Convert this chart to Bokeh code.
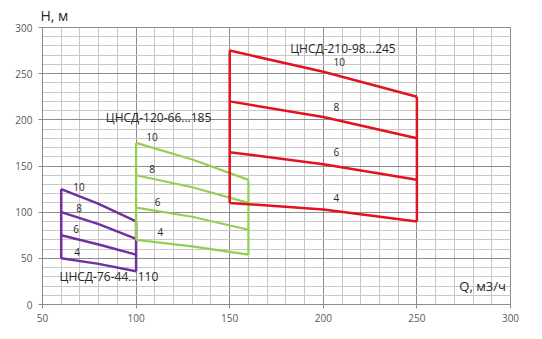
from bokeh.plotting import figure
from bokeh.models import Range1d, SingleIntervalTicker, Label
from bokeh.embed import file_html
from bokeh.resources import INLINE

# ---- data ----
q_small = [60, 80, 100]
h_small = {"10": [125, 109, 90], "8": [100, 87, 71], "6": [75, 65, 54], "4": [50, 44, 36]}
name_small = "ЦНСД-76-44...110"

q_mid = [100, 130, 160]
h_mid = {"10": [175, 157, 135], "8": [140, 127, 110], "6": [105, 95, 81], "4": [70, 63, 54]}
name_mid = "ЦНСД-120-66...185"

q_big = [150, 200, 250]
h_big = {"10": [275, 252, 225], "8": [220, 203, 180], "6": [165, 152, 135], "4": [110, 103, 90]}
name_big = "ЦНСД-210-98...245"

# label anchor points (Q, H) for curve numbers
lab_small = {"10": (69.5, 123), "8": (69.5, 100), "6": (68, 77.5), "4": (68.5, 52)}
lab_mid = {"10": (108.5, 177.5), "8": (108.5, 142), "6": (111.5, 107), "4": (113, 74.5)}
lab_big = {"10": (208.5, 258), "8": (207, 210), "6": (207, 161), "4": (207, 111)}
name_pos = {name_small: (85.5, 30), name_mid: (112, 202), name_big: (210.5, 277)}

x_ticks = [50, 100, 150, 200, 250, 300]
y_ticks = [0, 50, 100, 150, 200, 250, 300]

FONT = "Open Sans"

p = figure(width=542, height=339, output_backend="svg", toolbar_location=None,
           x_range=Range1d(50, 300), y_range=Range1d(0, 300),
           min_border_left=42, min_border_right=32, min_border_top=0, min_border_bottom=35)
p.title.text = "Н, м"
p.title.text_font = FONT
p.title.text_font_size = "14px"
p.title.text_font_style = "normal"
p.title.text_color = "#262626"
p.title.align = "left"
p.title.offset = -2
p.title.standoff = 6
p.background_fill_color = "white"
p.border_fill_color = "white"
p.outline_line_color = "#8c8c8c"

for ax, ticks in ((p.xaxis, x_ticks), (p.yaxis, y_ticks)):
    ax.ticker = SingleIntervalTicker(interval=50, num_minor_ticks=5)
    ax.axis_line_color = "#8c8c8c"
    ax.major_tick_line_color = "#8c8c8c"
    ax.major_tick_out = 4
    ax.major_tick_in = 0
    ax.minor_tick_line_color = None
    ax.major_label_text_font = FONT
    ax.major_label_text_font_size = "10px"
    ax.major_label_text_color = "#595959"
p.xaxis.major_label_standoff = 5
p.yaxis.major_label_standoff = 6

for g in (p.xgrid, p.ygrid):
    g.grid_line_color = "#8c8c8c"
    g.grid_line_width = 1
    g.minor_grid_line_color = "#c8c8c8"
    g.minor_grid_line_width = 1

def draw(qs, hs, color, labs, width):
    for k, hv in hs.items():
        p.line(qs, hv, line_color=color, line_width=width)
    firsts = [hv[0] for hv in hs.values()]
    lasts = [hv[-1] for hv in hs.values()]
    p.line([qs[0], qs[0]], [min(firsts), max(firsts)], line_color=color, line_width=width)
    p.line([qs[-1], qs[-1]], [min(lasts), max(lasts)], line_color=color, line_width=width)
    for k, (lx, ly) in labs.items():
        p.add_layout(Label(x=lx, y=ly, text=k, text_font=FONT, text_font_size="10px",
                           text_color="#262626", text_align="center", text_baseline="bottom"))

draw(q_small, h_small, "#7030a0", lab_small, 2.5)
draw(q_mid, h_mid, "#92d050", lab_mid, 2.2)
draw(q_big, h_big, "#e0141e", lab_big, 2.5)

for name, (nx, ny) in name_pos.items():
    p.add_layout(Label(x=nx, y=ny, text=name, text_font=FONT, text_font_size="12px",
                       text_color="#262626", text_align="center", text_baseline="middle"))

p.add_layout(Label(x=297.5, y=19.5, text="Q, м3/ч", text_font=FONT, text_font_size="13px",
                   text_color="#262626", text_align="right", text_baseline="middle"))

open("out.html", "w").write(file_html(p, INLINE))
